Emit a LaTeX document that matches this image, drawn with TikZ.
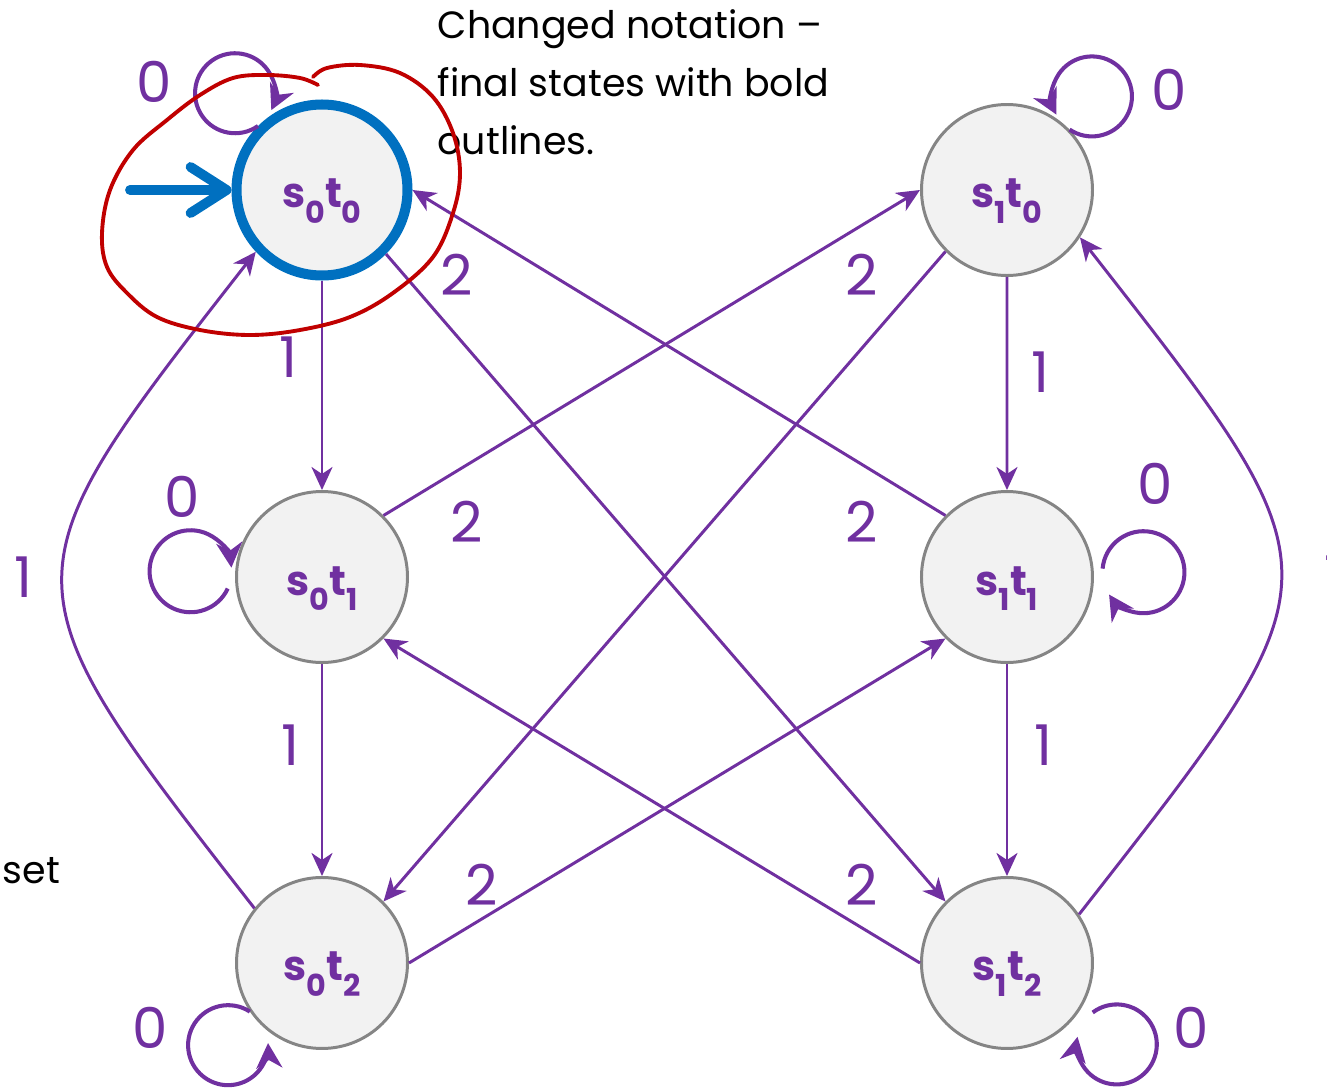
\documentclass[tikz,border=0pt]{standalone}
\usepackage{fontspec}
\setmainfont{Poppins}
\usetikzlibrary{arrows.meta,positioning}
\definecolor{fsmpurple}{HTML}{7030A0}
\definecolor{fsmblue}{HTML}{0070C0}
\definecolor{markred}{HTML}{C00000}
\definecolor{stategray}{HTML}{858585}
\definecolor{statefill}{HTML}{F2F2F2}
\newcommand{\stname}[2]{s\raisebox{-4.3pt}{\fontsize{8.6}{8}\selectfont #1}t\raisebox{-4.3pt}{\fontsize{8.6}{8}\selectfont #2}}
\tikzset{
  state/.style={circle,draw=stategray,fill=statefill,line width=0.85pt,minimum size=1.71cm,inner sep=0pt,
    text=fsmpurple,font=\fontsize{11.8}{12}\selectfont\bfseries,text height=0.36cm,text depth=0cm},
  final/.style={state,draw=fsmblue,line width=2.85pt},
  trans/.style={draw=fsmpurple,line width=0.85pt,-{Stealth[length=2.3mm,width=2.1mm,inset=0.7mm]}},
  selfloop/.style={draw=fsmpurple,line width=1.15pt,-{Stealth[length=2.5mm,width=2.6mm,inset=0.8mm]}},
  lbl/.style={text=fsmpurple,font=\fontsize{16}{16}\selectfont,inner sep=0pt},
  note/.style={align=left,inner sep=0pt,font=\fontsize{10.8}{16.5}\selectfont},
  redmark/.style={draw=markred,line width=1.1pt,line cap=round},
}
\begin{document}
\begin{tikzpicture}
    \useasboundingbox (0,0) rectangle (13.27,10.9);
    % states
    \node[final] (s00) at (3.22,9.00) {\stname{0}{0}};
    \node[state,below=2.095cm of s00] (s01) {\stname{0}{1}};
    \node[state,below=2.12cm of s01] (s02) {\stname{0}{2}};
    \node[state,right=5.075cm of s00] (s10) {\stname{1}{0}};
    \node[state,right=5.11cm of s01] (s11) {\stname{1}{1}};
    \node[state,right=5.11cm of s02] (s12) {\stname{1}{2}};
    % start arrow
    \coordinate (init) at (1.30,9.00);
    \draw[fsmblue,line width=2.8pt,line cap=round,-{Straight Barb[length=3.6mm,width=4.6mm,round]}] (init) -- (s00);
    % input 1
    \draw[trans] (s00) -- (s01);
    \draw[trans] (s01) -- (s02);
    \draw[trans] (s10) -- (s11);
    \draw[trans] (s11) -- (s12);
    \draw[trans] (s02.141) to[out=128,in=232,looseness=1.62] (s00.223);
    \draw[trans] (s12.34) to[out=52,in=308,looseness=1.65] (s10.-33);
    % input 2
    \draw[trans] (s00.-45) -- (s12.135);
    \draw[trans] (s11.135) -- (s00.east);
    \draw[trans] (s01.45) -- (s10.west);
    \draw[trans] (s10.-135) -- (s02.45);
    \draw[trans] (s02.east) -- (s11.-135);
    \draw[trans] (s12.west) -- (s01.-45);
    % input 0
    \draw[selfloop] (s00.135) arc[start angle=-55,delta angle=-330,radius=0.4];
    \draw[selfloop] (s10.44) arc[start angle=236,delta angle=331,radius=0.4];
    \draw[selfloop] ([shift={(187:0.08)}]s01.187) arc[start angle=-25,delta angle=-330,radius=0.41];
    \draw[selfloop] ([shift={(5:0.09)}]s11.5) arc[start angle=175,delta angle=-322,radius=0.41];
    \draw[selfloop] (s02.214) arc[start angle=57,delta angle=306,radius=0.4];
    \draw[selfloop] ([shift={(-30:0.12)}]s12.-30) arc[start angle=127,delta angle=-318,radius=0.4];
    % labels
    \node[lbl] (one00) at (2.88,7.33) {1};
    \node[lbl] (one01) at (2.90,3.45) {1};
    \node[lbl] (one10) at (10.40,7.18) {1};
    \node[lbl] (one11) at (10.43,3.45) {1};
    \node[lbl] (one02) at (0.23,5.13) {1};
    \node[lbl] (one12) at (13.33,5.14) {1};
    \node[lbl] (two00) at (4.57,8.15) {2};
    \node[lbl] (two10) at (8.62,8.15) {2};
    \node[lbl] (two01) at (4.67,5.68) {2};
    \node[lbl] (two11) at (8.62,5.68) {2};
    \node[lbl] (two02) at (4.82,2.05) {2};
    \node[lbl] (two12) at (8.62,2.05) {2};
    \node[lbl] (zero00) at (1.54,10.08) {0};
    \node[lbl] (zero10) at (11.69,10.00) {0};
    \node[lbl] (zero01) at (1.82,5.93) {0};
    \node[lbl] (zero11) at (11.55,6.06) {0};
    \node[lbl] (zero02) at (1.50,0.62) {0};
    \node[lbl] (zero12) at (11.91,0.62) {0};
    % slide text
    \node[note,anchor=north west] (remark) at (4.37,10.81) {Changed notation --\\final states with bold\\outlines.};
    \node[note,anchor=base west] (cut) at (0.02,2.07) {set};
    % hand drawn mark
    \draw[redmark] plot[smooth,tension=0.6] coordinates {(3.13,10.13) (3.27,10.22) (3.60,10.25) (4.00,10.17)
      (4.33,9.93) (4.53,9.57) (4.60,9.17) (4.53,8.77) (4.33,8.33) (3.93,7.97) (3.50,7.73) (3.00,7.60)
      (2.50,7.55) (2.00,7.60) (1.57,7.73) (1.27,7.97) (1.07,8.23) (1.02,8.57) (1.10,9.00) (1.33,9.40)
      (1.67,9.70) (2.00,9.95) (2.33,10.12) (2.67,10.15) (3.00,10.12) (3.18,10.05)};
\end{tikzpicture}
\end{document}
